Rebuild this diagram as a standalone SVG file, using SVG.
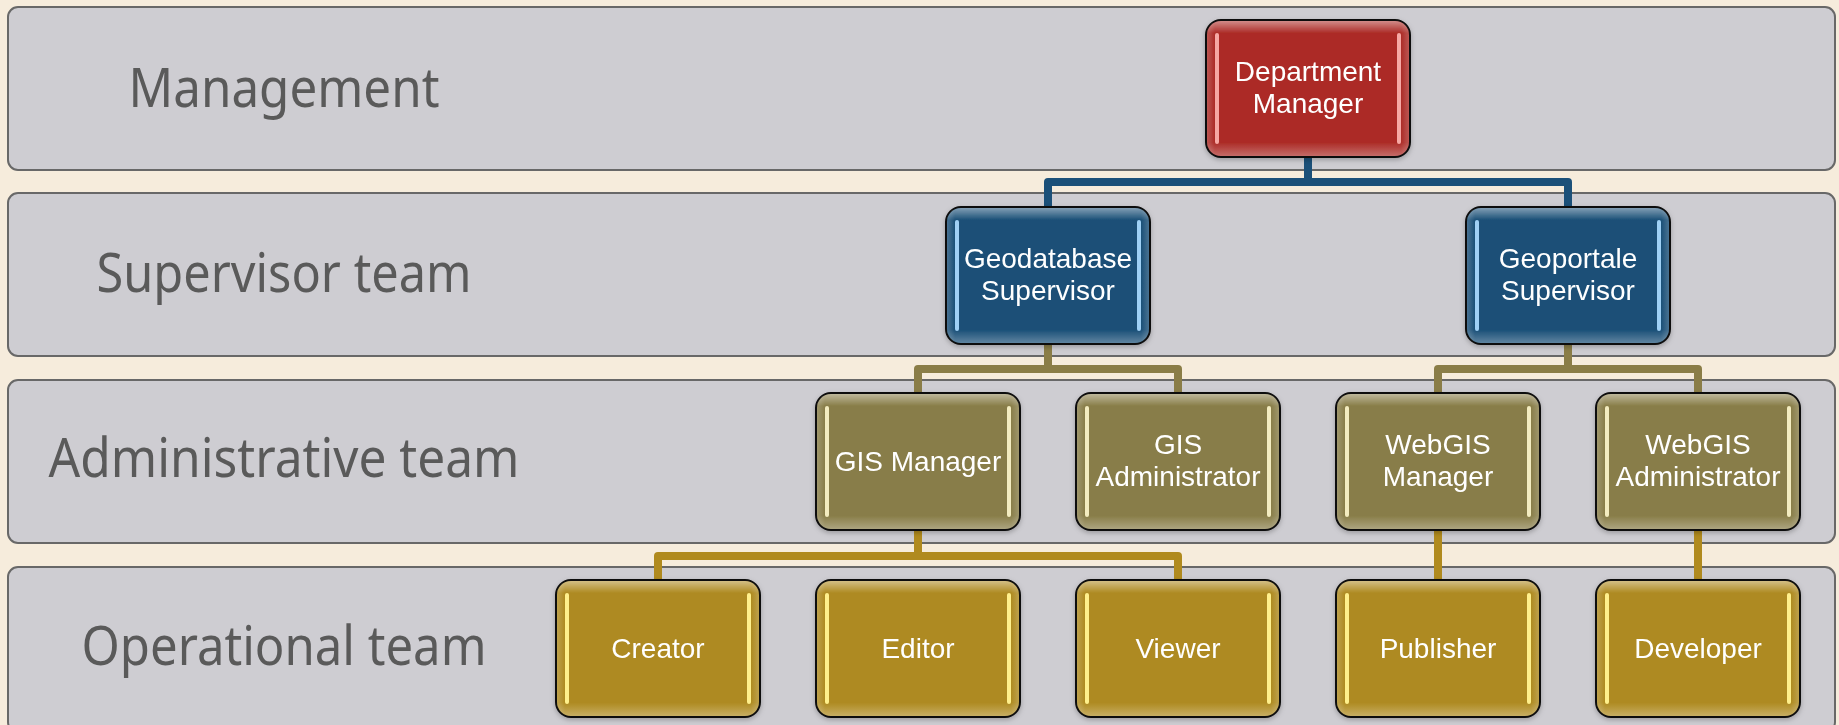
<svg xmlns="http://www.w3.org/2000/svg" width="1839" height="725" viewBox="0 0 1839 725">
<style>
.band{fill:#cecdd2;stroke:#686868;stroke-width:2}
.lbl{font-family:"Noto Sans","Liberation Sans",sans-serif;font-size:54px;fill:#5a5a5a;text-anchor:middle}
.nt{font-family:"Liberation Sans","Noto Sans",sans-serif;font-size:28px;fill:#ffffff;text-anchor:middle}
.box{stroke:#111111;stroke-width:2}
.red{fill:#ac2c27}
.blue{fill:#1a4f77}
.olive{fill:#887d48}
.gold{fill:#ae8a20}
.bar-red{fill:#f6a9a4}
.bar-blue{fill:#9fd0f5}
.bar-olive{fill:#f3ecc0}
.bar-gold{fill:#fff08c}
.gloss{fill:url(#glossV);stroke:none}
.glossH{fill:url(#glossH);stroke:none}
.con{fill:none;stroke-width:8;stroke-linejoin:round}
.c-blue{stroke:#1b5079}
.c-olive{stroke:#8a7d47}
.c-gold{stroke:#b08a1e}
</style>
<defs>
<linearGradient id="glossV" x1="0" y1="0" x2="0" y2="1">
<stop offset="0" stop-color="#ffffff" stop-opacity="0.45"/>
<stop offset="0.09" stop-color="#ffffff" stop-opacity="0"/>
<stop offset="0.9" stop-color="#ffffff" stop-opacity="0"/>
<stop offset="1" stop-color="#ffffff" stop-opacity="0.3"/>
</linearGradient>
<linearGradient id="glossH" x1="0" y1="0" x2="1" y2="0">
<stop offset="0" stop-color="#ffffff" stop-opacity="0.2"/>
<stop offset="0.04" stop-color="#ffffff" stop-opacity="0"/>
<stop offset="0.96" stop-color="#ffffff" stop-opacity="0"/>
<stop offset="1" stop-color="#ffffff" stop-opacity="0.2"/>
</linearGradient>
<filter id="sh" x="-10%" y="-10%" width="120%" height="125%">
<feDropShadow dx="0" dy="2" stdDeviation="2.5" flood-color="#000000" flood-opacity="0.25"/>
</filter>
</defs>
<rect x="0" y="0" width="1839" height="725" fill="#f6ecdc"/>
<g id="bands">
<g id="band-management"><rect class="band" x="8" y="7" width="1827" height="163" rx="10"/><text class="lbl" x="284" y="107" textLength="311" lengthAdjust="spacingAndGlyphs">Management</text></g>
<g id="band-supervisor"><rect class="band" x="8" y="193" width="1827" height="163" rx="10"/><text class="lbl" x="284" y="292" textLength="375" lengthAdjust="spacingAndGlyphs">Supervisor team</text></g>
<g id="band-administrative"><rect class="band" x="8" y="380" width="1827" height="163" rx="10"/><text class="lbl" x="284" y="477" textLength="471" lengthAdjust="spacingAndGlyphs">Administrative team</text></g>
<g id="band-operational"><rect class="band" x="8" y="567" width="1827" height="165" rx="10"/><text class="lbl" x="284" y="665" textLength="405" lengthAdjust="spacingAndGlyphs">Operational team</text></g>
</g>
<g id="connectors">
<path class="con c-blue" d="M1308,157 V182"/>
<path class="con c-blue" d="M1048,207 V182 H1568 V207"/>
<path class="con c-olive" d="M1048,344 V369"/>
<path class="con c-olive" d="M918,393 V369 H1178 V393"/>
<path class="con c-olive" d="M1568,344 V369"/>
<path class="con c-olive" d="M1438,393 V369 H1698 V393"/>
<path class="con c-gold" d="M918,530 V556"/>
<path class="con c-gold" d="M658,580 V556 H1178 V580"/>
<path class="con c-gold" d="M1438,530 V580"/>
<path class="con c-gold" d="M1698,530 V580"/>
</g>
<g id="n-dept" filter="url(#sh)">
<rect class="box red" x="1206" y="20" width="204" height="137" rx="15"/>
<rect class="gloss" x="1207" y="21" width="202" height="135" rx="14"/>
<rect class="glossH" x="1207" y="21" width="202" height="135" rx="14"/>
<rect class="bar-red" x="1215" y="33" width="4" height="111" rx="2"/>
<rect class="bar-red" x="1397" y="33" width="4" height="111" rx="2"/>
<text class="nt" x="1308" y="81">Department</text>
<text class="nt" x="1308" y="113">Manager</text>
</g>
<g id="n-geodb" filter="url(#sh)">
<rect class="box blue" x="946" y="207" width="204" height="137" rx="15"/>
<rect class="gloss" x="947" y="208" width="202" height="135" rx="14"/>
<rect class="glossH" x="947" y="208" width="202" height="135" rx="14"/>
<rect class="bar-blue" x="955" y="220" width="4" height="111" rx="2"/>
<rect class="bar-blue" x="1137" y="220" width="4" height="111" rx="2"/>
<text class="nt" x="1048" y="268">Geodatabase</text>
<text class="nt" x="1048" y="300">Supervisor</text>
</g>
<g id="n-geoportale" filter="url(#sh)">
<rect class="box blue" x="1466" y="207" width="204" height="137" rx="15"/>
<rect class="gloss" x="1467" y="208" width="202" height="135" rx="14"/>
<rect class="glossH" x="1467" y="208" width="202" height="135" rx="14"/>
<rect class="bar-blue" x="1475" y="220" width="4" height="111" rx="2"/>
<rect class="bar-blue" x="1657" y="220" width="4" height="111" rx="2"/>
<text class="nt" x="1568" y="268">Geoportale</text>
<text class="nt" x="1568" y="300">Supervisor</text>
</g>
<g id="n-gismanager" filter="url(#sh)">
<rect class="box olive" x="816" y="393" width="204" height="137" rx="15"/>
<rect class="gloss" x="817" y="394" width="202" height="135" rx="14"/>
<rect class="glossH" x="817" y="394" width="202" height="135" rx="14"/>
<rect class="bar-olive" x="825" y="406" width="4" height="111" rx="2"/>
<rect class="bar-olive" x="1007" y="406" width="4" height="111" rx="2"/>
<text class="nt" x="918" y="471">GIS Manager</text>
</g>
<g id="n-gisadmin" filter="url(#sh)">
<rect class="box olive" x="1076" y="393" width="204" height="137" rx="15"/>
<rect class="gloss" x="1077" y="394" width="202" height="135" rx="14"/>
<rect class="glossH" x="1077" y="394" width="202" height="135" rx="14"/>
<rect class="bar-olive" x="1085" y="406" width="4" height="111" rx="2"/>
<rect class="bar-olive" x="1267" y="406" width="4" height="111" rx="2"/>
<text class="nt" x="1178" y="454">GIS</text>
<text class="nt" x="1178" y="486">Administrator</text>
</g>
<g id="n-webgismanager" filter="url(#sh)">
<rect class="box olive" x="1336" y="393" width="204" height="137" rx="15"/>
<rect class="gloss" x="1337" y="394" width="202" height="135" rx="14"/>
<rect class="glossH" x="1337" y="394" width="202" height="135" rx="14"/>
<rect class="bar-olive" x="1345" y="406" width="4" height="111" rx="2"/>
<rect class="bar-olive" x="1527" y="406" width="4" height="111" rx="2"/>
<text class="nt" x="1438" y="454">WebGIS</text>
<text class="nt" x="1438" y="486">Manager</text>
</g>
<g id="n-webgisadmin" filter="url(#sh)">
<rect class="box olive" x="1596" y="393" width="204" height="137" rx="15"/>
<rect class="gloss" x="1597" y="394" width="202" height="135" rx="14"/>
<rect class="glossH" x="1597" y="394" width="202" height="135" rx="14"/>
<rect class="bar-olive" x="1605" y="406" width="4" height="111" rx="2"/>
<rect class="bar-olive" x="1787" y="406" width="4" height="111" rx="2"/>
<text class="nt" x="1698" y="454">WebGIS</text>
<text class="nt" x="1698" y="486">Administrator</text>
</g>
<g id="n-creator" filter="url(#sh)">
<rect class="box gold" x="556" y="580" width="204" height="137" rx="15"/>
<rect class="gloss" x="557" y="581" width="202" height="135" rx="14"/>
<rect class="glossH" x="557" y="581" width="202" height="135" rx="14"/>
<rect class="bar-gold" x="565" y="593" width="4" height="111" rx="2"/>
<rect class="bar-gold" x="747" y="593" width="4" height="111" rx="2"/>
<text class="nt" x="658" y="658">Creator</text>
</g>
<g id="n-editor" filter="url(#sh)">
<rect class="box gold" x="816" y="580" width="204" height="137" rx="15"/>
<rect class="gloss" x="817" y="581" width="202" height="135" rx="14"/>
<rect class="glossH" x="817" y="581" width="202" height="135" rx="14"/>
<rect class="bar-gold" x="825" y="593" width="4" height="111" rx="2"/>
<rect class="bar-gold" x="1007" y="593" width="4" height="111" rx="2"/>
<text class="nt" x="918" y="658">Editor</text>
</g>
<g id="n-viewer" filter="url(#sh)">
<rect class="box gold" x="1076" y="580" width="204" height="137" rx="15"/>
<rect class="gloss" x="1077" y="581" width="202" height="135" rx="14"/>
<rect class="glossH" x="1077" y="581" width="202" height="135" rx="14"/>
<rect class="bar-gold" x="1085" y="593" width="4" height="111" rx="2"/>
<rect class="bar-gold" x="1267" y="593" width="4" height="111" rx="2"/>
<text class="nt" x="1178" y="658">Viewer</text>
</g>
<g id="n-publisher" filter="url(#sh)">
<rect class="box gold" x="1336" y="580" width="204" height="137" rx="15"/>
<rect class="gloss" x="1337" y="581" width="202" height="135" rx="14"/>
<rect class="glossH" x="1337" y="581" width="202" height="135" rx="14"/>
<rect class="bar-gold" x="1345" y="593" width="4" height="111" rx="2"/>
<rect class="bar-gold" x="1527" y="593" width="4" height="111" rx="2"/>
<text class="nt" x="1438" y="658">Publisher</text>
</g>
<g id="n-developer" filter="url(#sh)">
<rect class="box gold" x="1596" y="580" width="204" height="137" rx="15"/>
<rect class="gloss" x="1597" y="581" width="202" height="135" rx="14"/>
<rect class="glossH" x="1597" y="581" width="202" height="135" rx="14"/>
<rect class="bar-gold" x="1605" y="593" width="4" height="111" rx="2"/>
<rect class="bar-gold" x="1787" y="593" width="4" height="111" rx="2"/>
<text class="nt" x="1698" y="658">Developer</text>
</g>
</svg>
